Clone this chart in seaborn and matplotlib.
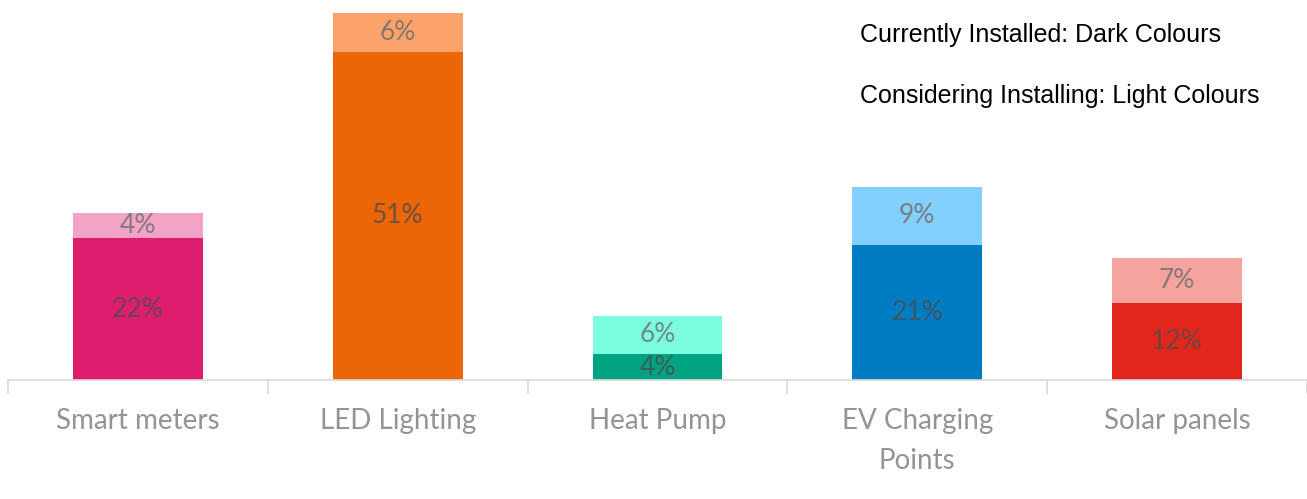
import pandas as pd
import seaborn as sns
import matplotlib.pyplot as plt

# Datos
categorias = ['Smart meters', 'LED Lighting', 'Heat Pump', 'EV Charging\nPoints', 'Solar panels']
instalado = [22, 51, 4, 21, 12]
considerando = [4, 6, 6, 9, 7]
colores_oscuros = ['#DE1D6E', '#EC6608', '#00A381', '#007CC3', '#E3261B']
colores_claros = ['#F2A3C6', '#FBA36A', '#7CFDE0', '#83D0FF', '#F5A39E']

df = pd.DataFrame({'categoria': categorias, 'instalado': instalado, 'considerando': considerando})
df['total'] = df['instalado'] + df['considerando']

sns.set_style('white')
plt.rcParams['font.family'] = ['Lato', 'DejaVu Sans']

fig = plt.figure(figsize=(13.07, 4.99), dpi=100)
ax = fig.add_axes([8 / 1307, 119 / 499, 1 - 8 / 1307, 380 / 499])

# barra total (claro) y encima la parte instalada (oscuro)
sns.barplot(data=df, x='categoria', y='total', hue='categoria', palette=colores_claros,
            width=0.5, legend=False, ax=ax, saturation=1, linewidth=0)
sns.barplot(data=df, x='categoria', y='instalado', hue='categoria', palette=colores_oscuros,
            width=0.5, legend=False, ax=ax, saturation=1, linewidth=0)

for i, fila in df.iterrows():
    ax.text(i, fila['instalado'] / 2, f"{fila['instalado']}%", ha='center', va='center',
            fontsize=19, color='#4d4d4d', alpha=0.8)
    ax.text(i, fila['instalado'] + fila['considerando'] / 2, f"{fila['considerando']}%",
            ha='center', va='center', fontsize=19, color='#6d6d6d', alpha=0.8)

ax.set_ylim(0, 59)
ax.set_xlim(-0.5, 4.48)
ax.set_xlabel('')
ax.set_ylabel('')
ax.set_yticks([])
for lado in ['left', 'right', 'top']:
    ax.spines[lado].set_visible(False)
ax.spines['bottom'].set_color('#d9d9d9')
ax.spines['bottom'].set_linewidth(1.2)

ax.set_xticks(range(len(categorias)))
ax.set_xticklabels(categorias, fontsize=20, color='#949494', linespacing=1.7)
ax.tick_params(axis='x', which='major', length=0, pad=20)
ax.set_xticks([i - 0.5 for i in range(len(categorias) + 1)], minor=True)
ax.tick_params(axis='x', which='minor', bottom=True, length=10, color='#d9d9d9', width=1.2)

fig.text(860 / 1307, 1 - 35 / 499, 'Currently Installed: Dark Colours', fontsize=18,
         family='Liberation Sans', va='center', ha='left', color='black')
fig.text(860 / 1307, 1 - 96 / 499, 'Considering Installing: Light Colours', fontsize=18,
         family='Liberation Sans', va='center', ha='left', color='black')

plt.savefig('out.png', dpi=100)
